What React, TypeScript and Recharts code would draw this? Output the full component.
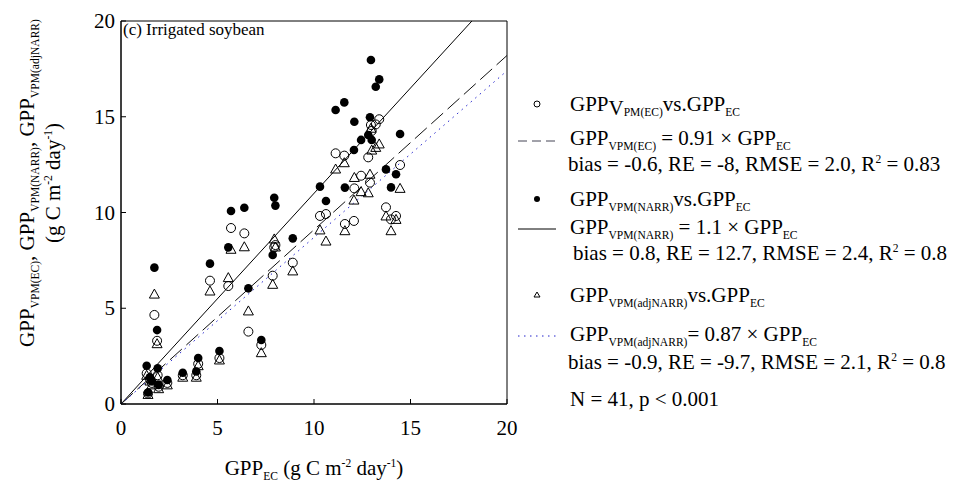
import React from "react";
import { ComposedChart, Scatter, Line, XAxis, YAxis, ReferenceArea } from "recharts";

// GPP from eddy covariance (x) and the three VPM estimates (y), N = 41
const gppEC = [
  1.33, 1.4, 1.5, 1.6, 1.73, 1.87, 1.9, 1.95, 2.4, 3.2, 3.9, 4.0, 4.61, 5.1,
  5.56, 5.7, 6.39, 6.6, 7.27, 7.86, 7.94, 8.0, 8.9, 10.31, 10.62, 11.12, 11.57,
  11.6, 12.07, 12.09, 12.44, 12.81, 12.9, 12.95, 12.99, 13.2, 13.38, 13.73,
  13.99, 14.25, 14.46,
];
const gppVpmEC = [
  1.6, 0.55, 1.3, 1.1, 4.65, 3.3, 1.5, 0.9, 1.1, 1.5, 1.5, 2.1, 6.44, 2.4,
  6.16, 9.19, 8.91, 3.78, 3.08, 6.7, 8.18, 8.3, 7.38, 9.82, 9.92, 13.09, 12.97,
  9.4, 9.56, 11.26, 11.92, 12.88, 11.56, 14.57, 14.26, 14.6, 14.87, 10.27,
  9.64, 9.82, 12.48,
];
const gppVpmNARR = [
  2.0, 0.6, 1.4, 1.2, 7.12, 3.86, 1.86, 1.0, 1.25, 1.63, 1.7, 2.4, 7.33, 2.77,
  8.18, 10.08, 10.25, 6.04, 3.34, 7.78, 10.77, 10.36, 8.65, 11.35, 10.6, 15.35,
  15.75, 11.3, 13.26, 14.74, 13.79, 14.05, 14.97, 17.96, 13.79, 16.57, 16.95,
  12.25, 11.31, 12.0, 14.1,
];
const gppVpmAdjNARR = [
  1.5, 0.5, 1.2, 1.0, 5.74, 3.15, 1.4, 0.8, 1.0, 1.4, 1.4, 2.0, 5.9, 2.3, 6.6,
  8.08, 8.21, 4.86, 2.68, 6.25, 8.62, 8.2, 6.95, 9.09, 8.51, 12.27, 12.6, 9.05,
  10.65, 11.83, 11.09, 11.03, 12.0, 14.4, 13.26, 13.4, 13.58, 9.82, 9.05, 9.64,
  11.26,
];

// regression slopes (through the origin)
const slopeEC = 0.91;
const slopeNARR = 1.1;
const slopeAdjNARR = 0.87;

const axisMax = 20;
const axisTicks = [0, 5, 10, 15, 20];

const FONT = "'Liberation Serif', 'Times New Roman', serif";

const pointsEC = gppEC.map((x, i) => ({ x, y: gppVpmEC[i] }));
const pointsNARR = gppEC.map((x, i) => ({ x, y: gppVpmNARR[i] }));
const pointsAdjNARR = gppEC.map((x, i) => ({ x, y: gppVpmAdjNARR[i] }));

function fitLine(slope: number) {
  const xEnd = Math.min(axisMax, axisMax / slope);
  return [
    { x: 0, y: 0 },
    { x: xEnd, y: slope * xEnd },
  ];
}

const OpenCircle = (p: any) => (
  <circle cx={p.cx} cy={p.cy} r={4.5} fill="none" stroke="#000" strokeWidth={1} />
);
const FilledCircle = (p: any) => <circle cx={p.cx} cy={p.cy} r={4.3} fill="#000" />;
const OpenTriangle = (p: any) => (
  <path
    d={`M${p.cx},${p.cy - 5} L${p.cx + 5},${p.cy + 4} L${p.cx - 5},${p.cy + 4} Z`}
    fill="none"
    stroke="#000"
    strokeWidth={1}
  />
);

type Part = [string, "n" | "sub" | "sup" | "v"];

function Rich({ x, y, parts, size = 21, anchor = "start" }: { x: number; y: number; parts: Part[]; size?: number; anchor?: string }) {
  let cur = 0;
  return (
    <text x={x} y={y} fontSize={size} textAnchor={anchor as any} fontFamily={FONT} fill="#000" style={{ whiteSpace: "pre" }}>
      {parts.map(([t, k], i) => {
        const off = k === "sub" ? 5 : k === "sup" ? -8 : k === "v" ? 4 : 0;
        const dy = off - cur;
        cur = off;
        return (
          <tspan key={i} dy={dy} fontSize={k === "n" || k === "v" ? size : size * 0.55}>
            {t}
          </tspan>
        );
      })}
    </text>
  );
}

const XTick = (p: any) => (
  <g>
    <line x1={p.x} y1={p.y} x2={p.x} y2={p.y - 5} stroke="#000" />
    <text x={p.x} y={p.y + 31} textAnchor="middle" fontSize={21} fontFamily={FONT} fill="#000">
      {p.payload.value}
    </text>
  </g>
);

const YTick = (p: any) => (
  <g>
    <line x1={p.x} y1={p.y} x2={p.x + 5} y2={p.y} stroke="#000" />
    <text x={p.x - 6} y={p.y + 7} textAnchor="end" fontSize={21} fontFamily={FONT} fill="#000">
      {p.payload.value}
    </text>
  </g>
);

export default function App() {
  return (
    <div style={{ position: "absolute", left: 0, top: 0, width: 959, height: 489, background: "#fff", overflow: "hidden" }}>
      <ComposedChart width={959} height={489} margin={{ top: 21, right: 452, bottom: 0, left: 0 }}>
        <XAxis
          type="number"
          dataKey="x"
          domain={[0, axisMax]}
          ticks={axisTicks}
          interval={0}
          height={85}
          tickSize={0}
          tickMargin={0}
          tickLine={false}
          axisLine={{ stroke: "#000" }}
          tick={<XTick />}
          allowDataOverflow
        />
        <YAxis
          type="number"
          dataKey="y"
          domain={[0, axisMax]}
          ticks={axisTicks}
          interval={0}
          width={121}
          tickSize={0}
          tickMargin={0}
          tickLine={false}
          axisLine={{ stroke: "#000" }}
          tick={<YTick />}
          allowDataOverflow
        />
        <ReferenceArea x1={0} x2={axisMax} y1={0} y2={axisMax} fill="none" stroke="#000" strokeWidth={1} />
        <Line data={fitLine(slopeNARR)} dataKey="y" stroke="#000" strokeWidth={1} dot={false} activeDot={false} isAnimationActive={false} />
        <Line data={fitLine(slopeEC)} dataKey="y" stroke="#111" strokeWidth={1} strokeDasharray="16 6" dot={false} activeDot={false} isAnimationActive={false} />
        <Line data={fitLine(slopeAdjNARR)} dataKey="y" stroke="#2222cc" strokeWidth={1} strokeDasharray="1.5 4.5" dot={false} activeDot={false} isAnimationActive={false} />
        <Scatter data={pointsAdjNARR} shape={<OpenTriangle />} isAnimationActive={false} />
        <Scatter data={pointsEC} shape={<OpenCircle />} isAnimationActive={false} />
        <Scatter data={pointsNARR} shape={<FilledCircle />} isAnimationActive={false} />
      </ComposedChart>

      <svg width={959} height={489} style={{ position: "absolute", left: 0, top: 0, pointerEvents: "none" }}>
        {/* panel title */}
        <text x={123} y={35} fontSize={17} fontFamily={FONT} fill="#000">(c) Irrigated soybean</text>

        {/* axis titles */}
        <Rich x={314} y={475} anchor="middle" parts={[["GPP", "n"], ["EC", "sub"], [" (g C m", "n"], ["-2", "sup"], [" day", "n"], ["-1", "sup"], [")", "n"]]} />
        <g transform="translate(34,183) rotate(-90)">
          <Rich x={0} y={0} anchor="middle" parts={[["GPP", "n"], ["VPM(EC)", "sub"], [", GPP", "n"], ["VPM(NARR)", "sub"], [", GPP", "n"], ["VPM(adjNARR)", "sub"]]} />
        </g>
        <g transform="translate(60,183) rotate(-90)">
          <Rich x={0} y={0} anchor="middle" parts={[["(g C m", "n"], ["-2", "sup"], [" day", "n"], ["-1", "sup"], [")", "n"]]} />
        </g>

        {/* legend */}
        <circle cx={537} cy={104} r={3} fill="none" stroke="#000" />
        <Rich x={570} y={111} parts={[["GPP", "n"], ["V", "v"], ["PM(EC)", "sub"], ["vs.GPP", "n"], ["EC", "sub"]]} />
        <line x1={518} y1={141} x2={556} y2={141} stroke="#445" strokeDasharray="9 5" />
        <Rich x={570} y={145} parts={[["GPP", "n"], ["VPM(EC)", "sub"], [" = 0.91 × GPP", "n"], ["EC", "sub"]]} />
        <Rich x={568} y={171} parts={[["bias = -0.6, RE = -8, RMSE = 2.0, R", "n"], ["2", "sup"], [" = 0.83", "n"]]} />

        <circle cx={537} cy={199} r={3} fill="#000" />
        <Rich x={570} y={206} parts={[["GPP", "n"], ["VPM(NARR)", "sub"], ["vs.GPP", "n"], ["EC", "sub"]]} />
        <line x1={518} y1={229} x2={556} y2={229} stroke="#000" />
        <Rich x={570} y={234} parts={[["GPP", "n"], ["VPM(NARR)", "sub"], [" = 1.1 × GPP", "n"], ["EC", "sub"]]} />
        <Rich x={573} y={260} parts={[["bias = 0.8, RE = 12.7, RMSE = 2.4, R", "n"], ["2", "sup"], [" = 0.8", "n"]]} />

        <path d="M537,292 L540,297 L534,297 Z" fill="none" stroke="#000" />
        <Rich x={570} y={302} parts={[["GPP", "n"], ["VPM(adjNARR)", "sub"], ["vs.GPP", "n"], ["EC", "sub"]]} />
        <line x1={518} y1={336} x2={556} y2={336} stroke="#2222cc" strokeDasharray="1.5 4.5" />
        <Rich x={570} y={341} parts={[["GPP", "n"], ["VPM(adjNARR)", "sub"], ["= 0.87 × GPP", "n"], ["EC", "sub"]]} />
        <Rich x={568} y={369} parts={[["bias = -0.9, RE = -9.7, RMSE = 2.1, R", "n"], ["2", "sup"], [" = 0.8", "n"]]} />

        <Rich x={570} y={406} parts={[["N = 41, p < 0.001", "n"]]} />
      </svg>
    </div>
  );
}
